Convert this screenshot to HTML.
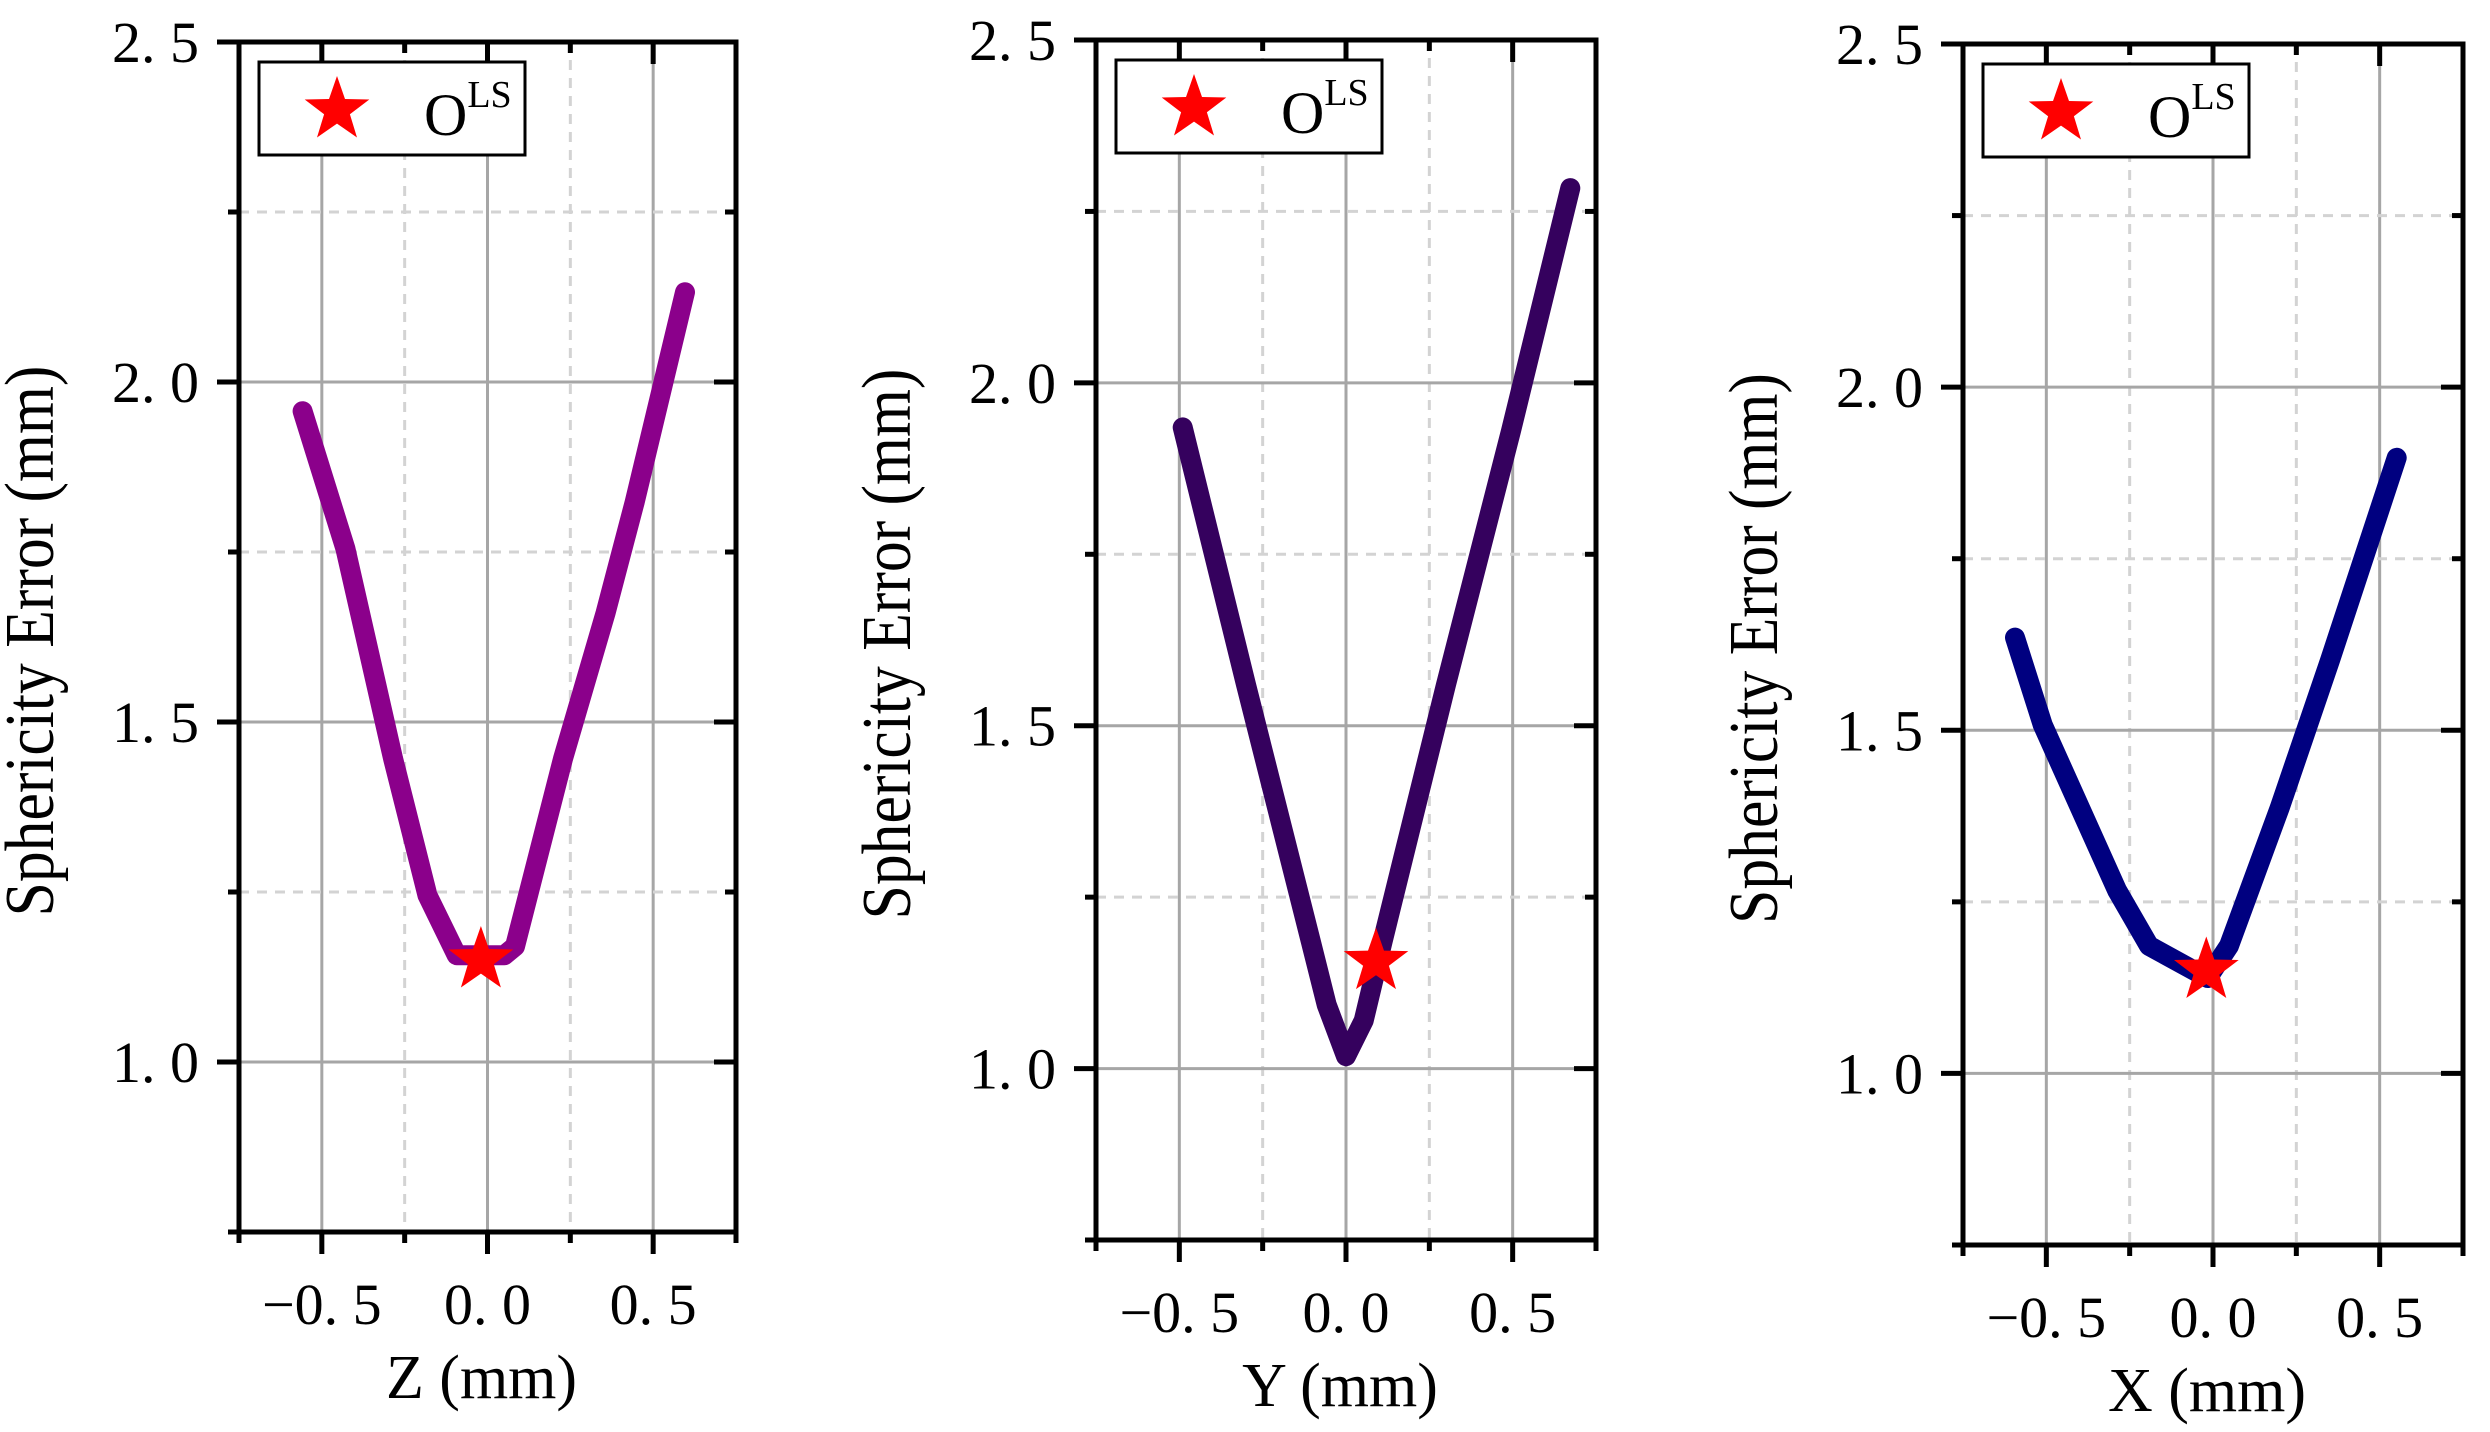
<!DOCTYPE html>
<html><head><meta charset="utf-8">
<style>
html,body{margin:0;padding:0;background:#fff;}
svg{display:block;}
text{font-family:"Liberation Serif","Noto Serif CJK SC",serif;fill:#000;}
</style></head>
<body>
<svg id="chart" width="2490" height="1432" viewBox="0 0 2490 1432" xmlns="http://www.w3.org/2000/svg"></svg>
<script>
// ---- data ----
const zValuesX = [-0.558, -0.429, -0.285, -0.181, -0.093, 0.051, 0.083, 0.228, 0.356, 0.444, 0.596];
const zValuesY = [1.957, 1.755, 1.446, 1.245, 1.157, 1.157, 1.170, 1.446, 1.660, 1.823, 2.132];
const yValuesX = [-0.49, -0.30, -0.106, -0.058, 0.0, 0.053, 0.11, 0.30, 0.495, 0.673];
const yValuesY = [1.935, 1.560, 1.186, 1.093, 1.018, 1.070, 1.186, 1.560, 1.930, 2.284];
const xValuesX = [-0.594, -0.511, -0.288, -0.192, -0.016, 0.048, 0.200, 0.351, 0.551];
const xValuesY = [1.635, 1.508, 1.267, 1.186, 1.139, 1.186, 1.387, 1.602, 1.897];
const starX = [-0.02, 0.09, -0.02];
const starY = [1.150, 1.156, 1.150];
const xTicks = [-0.5, 0.0, 0.5];
const xTickLabels = ["\u22120. 5", "0. 0", "0. 5"];
const yTicks = [1.0, 1.5, 2.0, 2.5];
const yTickLabels = ["1. 0", "1. 5", "2. 0", "2. 5"];
const xLabels = ["Z (mm)", "Y (mm)", "X (mm)"];
const lineColors = ["#8b008b", "#35015e", "#000080"];

const NS = "http://www.w3.org/2000/svg";
const svg = document.getElementById("chart");
function mk(tag, attrs, parent){
  const e = document.createElementNS(NS, tag);
  for (const k in attrs) e.setAttribute(k, attrs[k]);
  (parent||svg).appendChild(e);
  return e;
}
const panels = [
  {L:239, R:736, T:42, B:1232, xs:zValuesX, ys:zValuesY, name:"z"},
  {L:1096, R:1596, T:40, B:1240, xs:yValuesX, ys:yValuesY, name:"y"},
  {L:1963, R:2463, T:44, B:1245, xs:xValuesX, ys:xValuesY, name:"x"}
];
const XMIN=-0.75, XMAX=0.75, YMIN=0.75, YMAX=2.5;

function starPath(cx, cy, r){
  let d="";
  for(let i=0;i<10;i++){
    const rr = i%2===0 ? r : r*0.4;
    const a = -Math.PI/2 + i*Math.PI/5;
    d += (i?"L":"M") + (cx+rr*Math.cos(a)).toFixed(1) + "," + (cy+rr*Math.sin(a)).toFixed(1);
  }
  return d+"Z";
}

panels.forEach((p, idx) => {
  const sx = v => p.L + (v - XMIN) / (XMAX - XMIN) * (p.R - p.L);
  const sy = v => p.B - (v - YMIN) / (YMAX - YMIN) * (p.B - p.T);
  const g = mk("g", {});
  
  

  for (let v = -0.75; v <= 0.751; v += 0.25) {
    const major = Math.abs(Math.round(v*2) - v*2) < 1e-6;
    if (Math.abs(v) > 0.74) continue;
    const l = mk("line", {x1:sx(v), x2:sx(v), y1:p.T, y2:p.B, stroke: major?"#a6a6a6":"#d3d3d3", "stroke-width":3, "stroke-dasharray": major?"":"10,8"}, g);
    
    
  }
  for (let v = 1.0; v <= 2.251; v += 0.25) {
    const major = Math.abs(Math.round(v*2) - v*2) < 1e-6;
    const l = mk("line", {x1:p.L, x2:p.R, y1:sy(v), y2:sy(v), stroke: major?"#a6a6a6":"#d3d3d3", "stroke-width":3, "stroke-dasharray": major?"":"10,8"}, g);
    
    
  }

  const pts = p.xs.map((x,i) => sx(x).toFixed(1) + "," + sy(p.ys[i]).toFixed(1)).join(" ");
  const pl = mk("polyline", {points:pts, fill:"none", stroke:lineColors[idx], "stroke-width":20, "stroke-linejoin":"round", "stroke-linecap":"round"}, g);
  
  

  const st = mk("path", {d: starPath(sx(starX[idx]), sy(starY[idx]), 34), fill:"#ff0000"}, g);
  
  

  for (let k = -3; k <= 3; k++) {
    const v = k*0.25, major = k%2===0;
    const t1 = mk("line", {x1:sx(v), x2:sx(v), y1:p.B, y2:p.B + (major?22:11), stroke:"#000", "stroke-width":5}, g);
    
    
    const t2 = mk("line", {x1:sx(v), x2:sx(v), y1:p.T, y2:p.T + (major?22:11), stroke:"#000", "stroke-width":5}, g);
    
    
  }
  for (let k = 0; k <= 7; k++) {
    const v = 0.75 + k*0.25, major = k%2===1;
    const t1 = mk("line", {x1:p.L - (major?22:11), x2:p.L, y1:sy(v), y2:sy(v), stroke:"#000", "stroke-width":5}, g);
    
    
    const t2 = mk("line", {x1:p.R - (major?22:11), x2:p.R, y1:sy(v), y2:sy(v), stroke:"#000", "stroke-width":5}, g);
    
    
  }

  const fr = mk("rect", {x:p.L, y:p.T, width:p.R-p.L, height:p.B-p.T, fill:"none", stroke:"#000", "stroke-width":5}, g);
  
  

  xTicks.forEach((v,i) => {
    const t = mk("text", {x:sx(v), y:p.B + 92, "font-size":58, "text-anchor":"middle"}, g);
    t.textContent = xTickLabels[i];
    
    
  });
  yTicks.forEach((v,i) => {
    const t = mk("text", {x:p.L - 40, y:sy(v) + 20, "font-size":58, "text-anchor":"end"}, g);
    t.textContent = yTickLabels[i];
    
    
  });

  const xl = mk("text", {x:(p.L+p.R)/2 - 6, y:p.B + 166, "font-size":62, "text-anchor":"middle"}, g);
  xl.textContent = xLabels[idx];
  
  
  const ly = (p.T+p.B)/2 + 4, lx = p.L - 186;
  const yl = mk("text", {x:0, y:0, "font-size":70, "text-anchor":"middle", transform:`translate(${lx},${ly}) rotate(-90) scale(0.88,1)`}, g);
  yl.textContent = "Sphericity Error (mm)";
  
  

  const lg = mk("g", {}, g);
  
  
  const bx = p.L + 20, by = p.T + 20;
  mk("rect", {x:bx, y:by, width:266, height:93, fill:"#fff", stroke:"#000", "stroke-width":3}, lg);
  const ls = mk("path", {d: starPath(bx + 78, by + 48, 34), fill:"#ff0000"}, lg);
  
  
  const lt = mk("text", {x:bx + 165, y:by + 73, "font-size":60}, lg);
  lt.textContent = "O";
  
  
  const ls2 = mk("tspan", {dy:-28, "font-size":38}, lt);
  ls2.textContent = "LS";
});
</script>
</body></html>
